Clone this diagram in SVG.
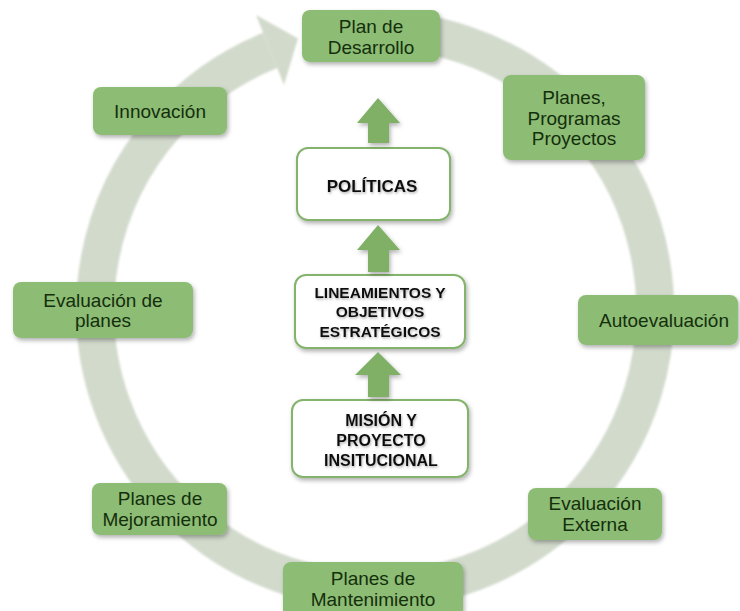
<svg xmlns="http://www.w3.org/2000/svg" width="740" height="611" viewBox="0 0 740 611">
  <defs>
    <filter id="shadow" x="-20%" y="-20%" width="140%" height="150%">
      <feDropShadow dx="1.5" dy="2.5" stdDeviation="2" flood-color="#000" flood-opacity="0.3"/>
    </filter>
    <filter id="txtShadow" x="-10%" y="-30%" width="120%" height="170%">
      <feDropShadow dx="0.8" dy="1.5" stdDeviation="1" flood-color="#555" flood-opacity="0.45"/>
    </filter>
    <filter id="soft" x="-5%" y="-5%" width="110%" height="110%">
      <feGaussianBlur stdDeviation="0.8"/>
    </filter>
  </defs>
  <style>
    .ring { fill: none; stroke: #d2dacc; stroke-width: 38; }
    .ringHead { fill: #d2dacc; }
    .green rect { fill: #8dbc75; filter: url(#shadow); }
    .green text { font-family: "Liberation Sans", Arial, sans-serif; font-size: 19px; fill: #142f0c; text-anchor: middle; }
    .white rect { fill: #ffffff; stroke: #84b36c; stroke-width: 2; filter: url(#shadow); }
    .white text { font-family: "Liberation Sans", Arial, sans-serif; font-weight: bold; fill: #111111; text-anchor: middle; filter: url(#txtShadow); }
    .up { fill: #7fb066; filter: url(#shadow); }
  </style>

  <!-- circular cycle arrow -->
  <g id="cycle" filter="url(#soft)">
    <path class="ring" d="M 336 32.7 A 280 280 0 1 1 270.1 50.4"/>
    <polygon class="ringHead" points="256,15 298,38.5 284,85"/>
  </g>

  <!-- outer cycle nodes -->
  <g id="plan-desarrollo" class="green">
    <rect x="302" y="10" width="138" height="52" rx="8"/>
    <text x="371" y="33">Plan de</text>
    <text x="371" y="54">Desarrollo</text>
  </g>
  <g id="planes-programas" class="green">
    <rect x="503" y="75" width="142" height="85" rx="8"/>
    <text x="574" y="104">Planes,</text>
    <text x="574" y="125">Programas</text>
    <text x="574" y="145">Proyectos</text>
  </g>
  <g id="autoevaluacion" class="green">
    <rect x="578" y="295" width="160" height="50" rx="8"/>
    <text x="664" y="327">Autoevaluación</text>
  </g>
  <g id="evaluacion-externa" class="green">
    <rect x="528" y="488" width="134" height="52" rx="8"/>
    <text x="595" y="510">Evaluación</text>
    <text x="595" y="531">Externa</text>
  </g>
  <g id="planes-mantenimiento" class="green">
    <rect x="283" y="562" width="180" height="56" rx="8"/>
    <text x="373" y="585">Planes de</text>
    <text x="373" y="606">Mantenimiento</text>
  </g>
  <g id="planes-mejoramiento" class="green">
    <rect x="92" y="483" width="135" height="52" rx="8"/>
    <text x="160" y="505">Planes de</text>
    <text x="160" y="526">Mejoramiento</text>
  </g>
  <g id="evaluacion-planes" class="green">
    <rect x="13" y="282" width="180" height="56" rx="8"/>
    <text x="103" y="307">Evaluación de</text>
    <text x="103" y="327">planes</text>
  </g>
  <g id="innovacion" class="green">
    <rect x="93" y="87" width="134" height="48" rx="8"/>
    <text x="160" y="118">Innovación</text>
  </g>

  <!-- central stack -->
  <g id="politicas" class="white">
    <rect x="297" y="148" width="153" height="72" rx="11"/>
    <text x="372" y="192" font-size="17">POLÍTICAS</text>
  </g>
  <g id="lineamientos" class="white">
    <rect x="295" y="275" width="170" height="73" rx="11"/>
    <text x="380" y="298" font-size="15.5">LINEAMIENTOS Y</text>
    <text x="380" y="317" font-size="15.5">OBJETIVOS</text>
    <text x="380" y="337" font-size="15.5">ESTRATÉGICOS</text>
  </g>
  <g id="mision" class="white">
    <rect x="292" y="400" width="176" height="77" rx="11"/>
    <text x="381" y="426" font-size="16">MISIÓN Y</text>
    <text x="381" y="446" font-size="16">PROYECTO</text>
    <text x="381" y="466" font-size="16">INSITUCIONAL</text>
  </g>

  <!-- upward connectors -->
  <g id="connectors">
    <polygon class="up" points="378,98 400,123 389,123 389,143 368,143 368,123 357,123"/>
    <polygon class="up" points="378,225 400,250 389,250 389,272 368,272 368,250 357,250"/>
    <polygon class="up" points="378,352 401,375 389,375 389,397 368,397 368,375 355,375"/>
  </g>
</svg>
